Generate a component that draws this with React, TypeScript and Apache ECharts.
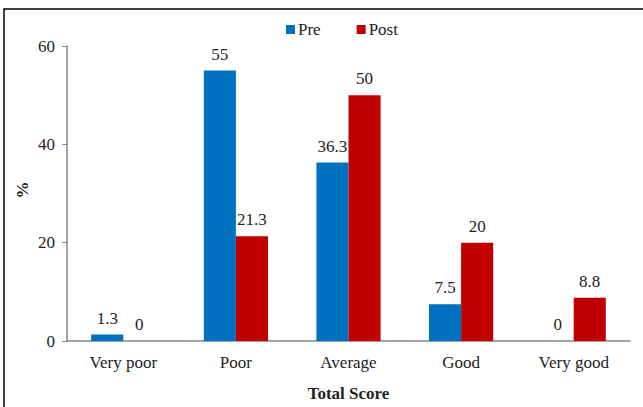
import React, { useEffect, useRef } from "react";
import * as echarts from "echarts";

const categories = ["Very poor", "Poor", "Average", "Good", "Very good"];
const preValues = [1.3, 55, 36.3, 7.5, 0];
const postValues = [0, 21.3, 50, 20, 8.8];
const seriesNames = ["Pre", "Post"];
const yTitle = "%";
const xTitle = "Total Score";

const FONT = "'Liberation Serif', 'Times New Roman', serif";

export default function App() {
  const ref = useRef<HTMLDivElement>(null);
  useEffect(() => {
    if (!ref.current) return;
    const chart = echarts.init(ref.current, undefined, { renderer: "svg" });
    const labelCfg = {
      show: true,
      position: "top",
      distance: 8,
      color: "#222",
      fontFamily: FONT,
      fontSize: 17,
    };
    chart.setOption({
      animation: false,
      backgroundColor: "#fff",
      textStyle: { fontFamily: FONT },
      graphic: [
        {
          type: "rect",
          shape: { x: 4, y: 9, width: 700, height: 500 },
          style: { fill: "none", stroke: "#000", lineWidth: 1.5 },
          silent: true,
        },
        {
          type: "text",
          x: 22,
          y: 190,
          rotation: Math.PI / 2,
          style: {
            text: yTitle,
            fontFamily: FONT,
            fontSize: 17,
            fontWeight: "bold",
            fill: "#222",
            align: "center",
            verticalAlign: "middle",
          },
          silent: true,
        },
      ],
      legend: {
        data: seriesNames,
        top: 16,
        left: 281,
        itemWidth: 9,
        itemHeight: 9,
        itemGap: 36,
        icon: "rect",
        textStyle: { fontFamily: FONT, fontSize: 17, color: "#222", padding: [0, 0, 0, -2] },
      },
      grid: { left: 67, top: 46, right: 13, bottom: 63 },
      xAxis: {
        type: "category",
        data: categories,
        name: xTitle,
        nameLocation: "middle",
        nameGap: 44,
        nameTextStyle: { fontFamily: FONT, fontSize: 17, fontWeight: "bold", color: "#222" },
        axisLine: { lineStyle: { color: "#868686", width: 1.5 } },
        axisTick: { show: false },
        axisLabel: { fontFamily: FONT, fontSize: 17, color: "#222", margin: 13 },
      },
      yAxis: {
        type: "value",
        min: 0,
        max: 60,
        interval: 20,
        axisLine: { show: true, lineStyle: { color: "#868686", width: 1.5 } },
        axisTick: { show: true, length: 5, lineStyle: { color: "#868686" } },
        splitLine: { show: false },
        axisLabel: { fontFamily: FONT, fontSize: 17, color: "#222", margin: 12 },
      },
      series: [
        {
          name: seriesNames[0],
          type: "bar",
          data: preValues,
          barGap: "0%",
          barCategoryGap: "43%",
          itemStyle: { color: "#0070C0" },
          label: labelCfg,
        },
        {
          name: seriesNames[1],
          type: "bar",
          data: postValues,
          barGap: "0%",
          barCategoryGap: "43%",
          itemStyle: { color: "#C00000" },
          label: labelCfg,
        },
      ],
    });
    return () => chart.dispose();
  }, []);
  return <div ref={ref} style={{ width: 643, height: 407, position: "absolute", left: 0, top: 0 }} />;
}
